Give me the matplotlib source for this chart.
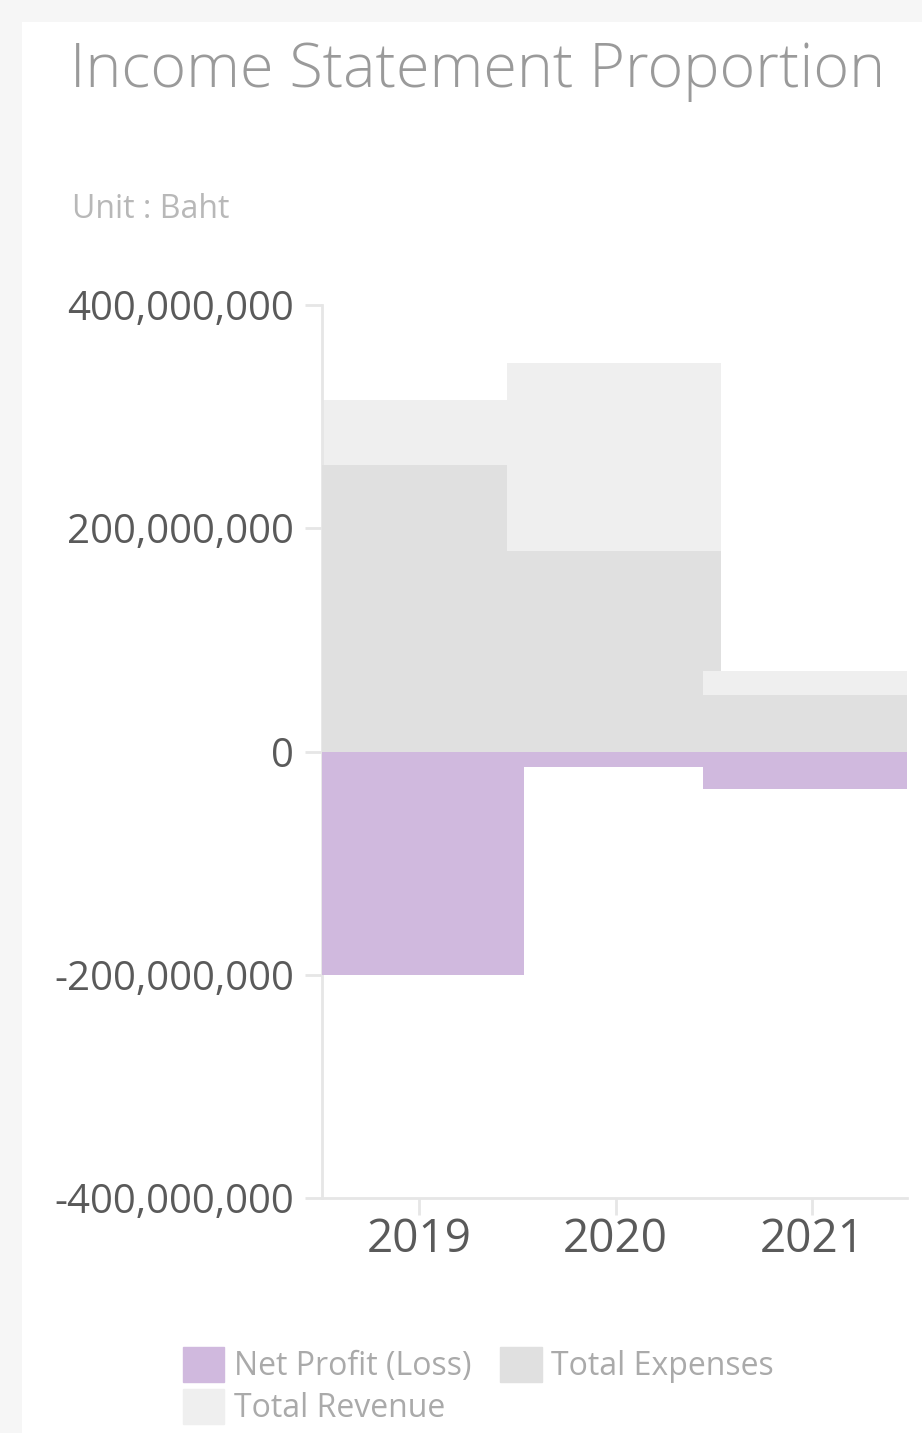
import matplotlib
matplotlib.use("Agg")
import matplotlib.pyplot as plt
from matplotlib.patches import Rectangle, Patch
from matplotlib.ticker import FuncFormatter
import numpy as np

years = ["2019", "2020", "2021"]
net_profit = [-200_000_000, -14_000_000, -34_000_000]
total_expenses = [257_000_000, 180_000_000, 51_000_000]
total_revenue = [315_000_000, 348_000_000, 72_000_000]
y_ticks = [-400_000_000, -200_000_000, 0, 200_000_000, 400_000_000]

purple = "#d0b9de"
exp_grey = "#e0e0e0"
rev_grey = "#efefef"
axis_grey = "#e6e6e6"

plt.rcParams["font.family"] = ["Open Sans", "DejaVu Sans"]

fig = plt.figure(figsize=(9.22, 14.33), dpi=100)
fig.patch.set_facecolor("#f6f6f6")
# white card
fig.add_artist(Rectangle((22 / 922, 0), 1, 1 - 22 / 1433, transform=fig.transFigure,
                         facecolor="white", edgecolor="none", zorder=0))

ax = fig.add_axes([322 / 922, 1 - 1198 / 1433, (907 - 322) / 922, (1198 - 305) / 1433])
ax.set_facecolor("none")

# bars are wide and overlap the next year; later years sit on top
x = np.arange(len(years))
w, off = 1.09, -0.01
rev = ax.bar(x + off, total_revenue, width=w, color=rev_grey)
exp = ax.bar(x + off, total_expenses, width=w, color=exp_grey)
npl = ax.bar(x + off, net_profit, width=w, color=purple)
for i in range(len(years)):
    rev.patches[i].set_zorder(2 + 3 * i)
    exp.patches[i].set_zorder(3 + 3 * i)
    npl.patches[i].set_zorder(4 + 3 * i)

ax.set_xlim(-0.494, 2.483)
ax.set_ylim(-400_000_000, 400_000_000)
ax.set_xticks(x)
ax.set_xticklabels(years)
ax.set_yticks(y_ticks)
ax.yaxis.set_major_formatter(FuncFormatter(lambda v, p: f"{v:,.0f}"))

for s in ["top", "right"]:
    ax.spines[s].set_visible(False)
for s in ["left", "bottom"]:
    ax.spines[s].set_color(axis_grey)
    ax.spines[s].set_linewidth(2)
ax.tick_params(axis="y", colors=axis_grey, labelcolor="#5a5a5a", labelsize=29,
               length=12, width=2, pad=8)
ax.tick_params(axis="x", colors=axis_grey, labelcolor="#5a5a5a", labelsize=33,
               length=12, width=2, pad=2)

fig.text(70 / 922, 1 - 71 / 1433, "Income Statement Proportion", fontsize=44,
         color="#9a9a9a", fontweight="light", va="center", ha="left")
fig.text(72 / 922, 1 - 210 / 1433, "Unit : Baht", fontsize=23,
         color="#b8b8b8", va="center", ha="left")

handles = [Patch(color=purple, label="Net Profit (Loss)"),
           Patch(color=rev_grey, label="Total Revenue"),
           Patch(color=exp_grey, label="Total Expenses")]
fig.legend(handles=handles, ncol=2, loc="upper left",
           bbox_to_anchor=(154 / 922, 1 - 1318 / 1433), frameon=False,
           fontsize=23, labelcolor="#aaaaaa", handlelength=1.3, handleheight=1.3,
           handletextpad=0.3, columnspacing=0.9, labelspacing=0.2)

fig.savefig("out.png", dpi=100)
